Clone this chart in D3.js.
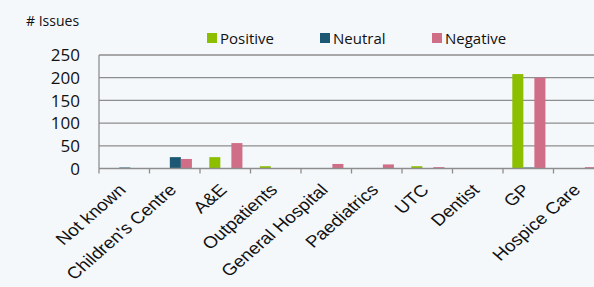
<meta charset="utf-8">
<script src="https://cdn.jsdelivr.net/npm/d3@7"></script>

<style>
  body {
    margin: 0;
    background-color: #F5F8FB;
    overflow: hidden;
  }

  .calib {
    font-family: "Open Sans", "Noto Sans", sans-serif;
  }

  .xlab {
    font-family: "Liberation Sans", Arial, sans-serif;
  }
</style>

<div id="issues"></div>

<script>
// categories along the x axis
var categories = ["Not known", "Children's Centre", "A&E", "Outpatients", "General Hospital",
                  "Paediatrics", "UTC", "Dentist", "GP", "Hospice Care"];

// series names + values
var seriesNames = ["Positive", "Neutral", "Negative"];
var positive = [0, 0, 25, 5, 0, 0, 5, 0, 208, 0];
var neutral  = [1, 25, 0, 0, 0, 0, 0, 0, 1, 0];
var negative = [0, 21, 56, 0, 10, 9, 3, 0, 200, 3];

var yTicks = [0, 50, 100, 150, 200, 250];

var colors = {"Positive": "#8cbf00", "Neutral": "#1c5873", "Negative": "#d16e87"};

// build rows for the bars
var rows = [];
categories.forEach(function(c, i) {
  rows.push({cat: c, series: "Positive", value: positive[i]});
  rows.push({cat: c, series: "Neutral", value: neutral[i]});
  rows.push({cat: c, series: "Negative", value: negative[i]});
});

var W = 594, H = 287;
// plot area; right edge runs past the window like in the original
var plot = {left: 99, right: 604, top: 55, bottom: 168.5};

var svg = d3.select("#issues")
  .append("svg")
    .attr("width", W)
    .attr("height", H);

var x = d3.scaleBand()
  .domain(categories)
  .range([plot.left, plot.right]);

var xInner = d3.scaleBand()
  .domain(seriesNames)
  .range([x.bandwidth() * 0.184, x.bandwidth() * 0.84]);

var y = d3.scaleLinear()
  .domain([0, 250])
  .range([plot.bottom, plot.top]);

// gridlines
svg.append("g")
  .selectAll("line")
  .data(yTicks.filter(function(d) { return d > 0; }))
  .enter()
  .append("line")
    .attr("x1", plot.left)
    .attr("x2", W)
    .attr("y1", function(d) { return y(d); })
    .attr("y2", function(d) { return y(d); })
    .attr("stroke", "#8e8e8e")
    .attr("stroke-width", 1.3);

// y tick labels
svg.append("g")
  .selectAll("text")
  .data(yTicks)
  .enter()
  .append("text")
    .attr("class", "calib")
    .attr("x", 80)
    .attr("y", function(d) { return y(d); })
    .attr("dy", "0.36em")
    .attr("text-anchor", "end")
    .style("font-size", "17px")
    .style("fill", "#111")
    .text(function(d) { return d; });

// bars (tiny values get at least a hairline so they still show)
svg.append("g")
  .selectAll("rect")
  .data(rows.filter(function(d) { return d.value > 0; }))
  .enter()
  .append("rect")
    .attr("x", function(d) { return x(d.cat) + xInner(d.series); })
    .attr("y", function(d) { return Math.min(y(d.value), y(0) - 1); })
    .attr("width", xInner.bandwidth())
    .attr("height", function(d) { return Math.max(y(0) - y(d.value), 1); })
    .attr("fill", function(d) { return colors[d.series]; });

// y axis line
svg.append("line")
  .attr("x1", plot.left).attr("x2", plot.left)
  .attr("y1", plot.top).attr("y2", plot.bottom)
  .attr("stroke", "#8e8e8e")
  .attr("stroke-width", 1.3);

// x axis with downward ticks at the band edges
var xAxis = svg.append("g")
  .attr("transform", "translate(0," + plot.bottom + ")");

xAxis.append("line")
  .attr("x1", plot.left).attr("x2", W)
  .attr("stroke", "#8e8e8e")
  .attr("stroke-width", 1.3);

xAxis.selectAll(".tk")
  .data(categories)
  .enter()
  .append("line")
    .attr("class", "tk")
    .attr("x1", function(d) { return x(d); })
    .attr("x2", function(d) { return x(d); })
    .attr("y1", 0)
    .attr("y2", 5)
    .attr("stroke", "#8e8e8e")
    .attr("stroke-width", 1.3);

// rotated category labels - the original looks a bit stretched sideways
svg.append("g")
  .selectAll("text")
  .data(categories)
  .enter()
  .append("text")
    .attr("class", "xlab")
    .attr("text-anchor", "end")
    .attr("transform", function(d) {
      return "translate(" + (x(d) + x.bandwidth() / 2 + 2.7) + "," + 191 + ")scale(1.15,1)rotate(-45)";
    })
    .style("font-size", "16.5px")
    .style("fill", "#111")
    .text(function(d) { return d; });

// y axis title
svg.append("text")
  .attr("class", "calib")
  .attr("x", 26)
  .attr("y", 26)
  .style("font-size", "14px")
  .style("fill", "#111")
  .text("# Issues");

// legend
var legendX = [207, 320, 432];
var legend = svg.append("g")
  .selectAll("g")
  .data(seriesNames)
  .enter()
  .append("g")
    .attr("transform", function(d, i) { return "translate(" + legendX[i] + ",33)"; });

legend.append("rect")
  .attr("width", 10)
  .attr("height", 10)
  .attr("fill", function(d) { return colors[d]; });

legend.append("text")
  .attr("class", "calib")
  .attr("x", 13)
  .attr("y", 11)
  .style("font-size", "15px")
  .style("fill", "#111")
  .text(function(d) { return d; });
</script>
